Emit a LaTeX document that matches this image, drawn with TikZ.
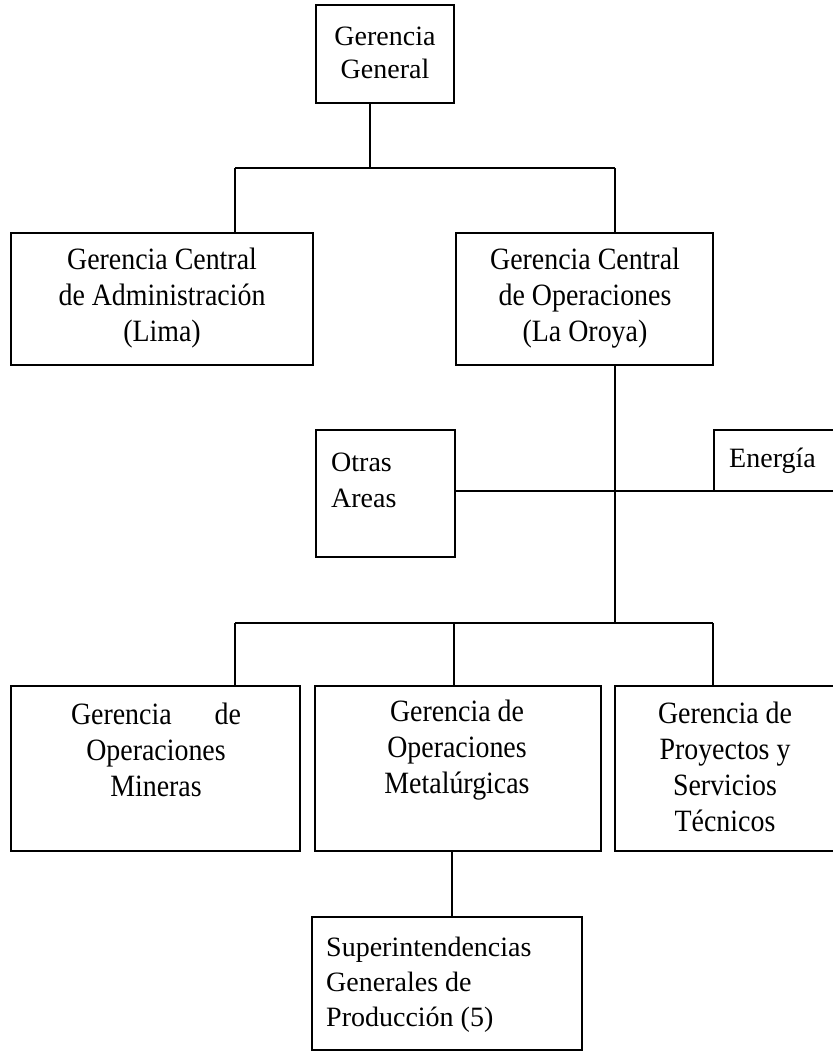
\documentclass[tikz,border=0pt]{standalone}
\usepackage{fontspec}
\setmainfont{Liberation Serif}
\newfontfamily\condfont[FakeStretch=0.9]{Liberation Serif}
\begin{document}
\begin{tikzpicture}[x=1pt,y=-1pt,
  box/.style={draw,line width=1.7pt,rectangle,inner sep=0pt,outer sep=0pt},
  link/.style={line width=1.4pt},
  txt/.style={inner sep=0pt,font=\fontsize{28}{33}\selectfont},
  ctxt/.style={inner sep=0pt,align=center,font=\condfont\fontsize{31}{36}\selectfont}]
\useasboundingbox (0,0) rectangle (832,1054);
% boxes
\node[box,minimum width=138,minimum height=98] (gg) at (385,54) {};
\node[box,minimum width=302,minimum height=132] (gca) at (162,299) {};
\node[box,minimum width=257,minimum height=132] (gco) at (584.5,299) {};
\node[box,minimum width=139,minimum height=127] (otras) at (385.5,493.5) {};
\node[box,minimum width=126,minimum height=61] (ene) at (777,460.5) {};
\node[box,minimum width=289,minimum height=165] (gom) at (155.5,768.5) {};
\node[box,minimum width=286,minimum height=165] (gomet) at (458,768.5) {};
\node[box,minimum width=225,minimum height=165] (gps) at (727.5,768.5) {};
\node[box,minimum width=270,minimum height=133] (sup) at (447,983.5) {};
% texts
\node[txt,align=center] (tgg) at (385,53) {Gerencia\\General};
\node[ctxt] (tgca) at (162,298) {Gerencia Central\\de Administración\\(Lima)};
\node[ctxt] (tgco) at (585,298) {Gerencia Central\\de Operaciones\\(La Oroya)};
\node[txt,align=left,anchor=west,font=\fontsize{28}{36}\selectfont] (totras) at (331,480) {Otras\\Areas};
\node[txt,anchor=west] (tene) at (729,461) {Energía};
\node[ctxt] (tgom) at (156,750) {\makebox[170pt][s]{Gerencia\hfill de}\\Operaciones\\Mineras};
\node[ctxt] (tgomet) at (457,750) {Gerencia de\\Operaciones\\Metalúrgicas};
\node[ctxt] (tgps) at (725,767) {Gerencia de\\Proyectos y\\Servicios\\Técnicos};
\node[txt,align=left,anchor=west,font=\fontsize{28}{35}\selectfont] (tsup) at (326,985) {Superintendencias\\Generales de\\Producción (5)};
% junction coordinates
\coordinate (j1) at (370,168);
\coordinate (ja) at (235,168);
\coordinate (jb) at (615,168);
\coordinate (k) at (615,623);
\coordinate (ka) at (235,623);
\coordinate (kb) at (454,623);
\coordinate (kc) at (713,623);
\coordinate (m) at (452,851);
% connectors
\draw[link] (gg.south -| j1) -- (j1);
\draw[link] (ja) -- (jb);
\draw[link] (ja) -- (ja |- gca.north);
\draw[link] (jb) -- (jb |- gco.north);
\draw[link] (gco.south -| k) -- (k);
\draw[link] (otras.east |- ene.south) -- (ene.south west);
\draw[link] (ka) -- (kc);
\draw[link] (ka) -- (ka |- gom.north);
\draw[link] (kb) -- (kb |- gomet.north);
\draw[link] (kc) -- (kc |- gps.north);
\draw[link] (m) -- (m |- sup.north);
\end{tikzpicture}
\end{document}
